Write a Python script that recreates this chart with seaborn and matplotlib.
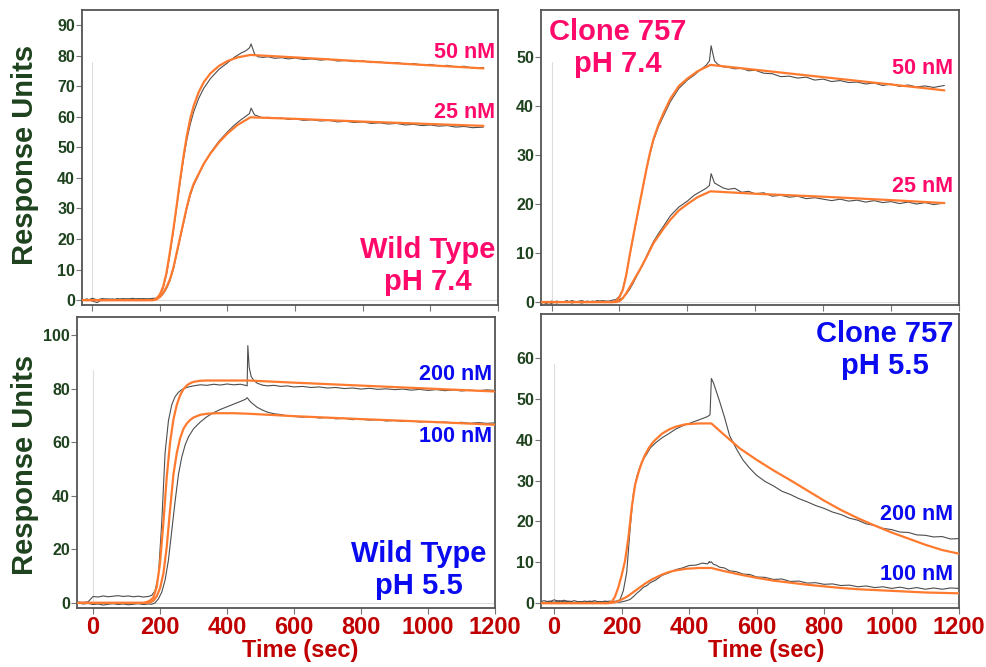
import numpy as np
import seaborn as sns
import matplotlib.pyplot as plt

# ---- time grids (sec) ----
t_gray_74 = [-30, -15, 0, 15, 30, 45, 60, 75, 90, 105, 120, 135, 150, 165, 180, 190, 200, 210, 220, 230,
             240, 250, 260, 270, 280, 290, 300, 315, 330, 350, 375, 400, 420, 440, 455, 465, 470, 480, 490, 505,
             520, 540, 560, 580, 600, 625, 650, 675, 700, 725, 750, 775, 800, 825, 850, 875, 900, 925, 950, 975,
             1000, 1025, 1050, 1075, 1100, 1125, 1157]
t_fit_74 = [-30, 180, 190, 200, 210, 220, 230, 240, 250, 260, 270, 280, 290, 300, 315, 330, 350, 375, 400, 430,
            468, 600, 800, 1000, 1157]

t_gray_55 = [-45, -30, -15, 0, 15, 30, 45, 60, 75, 90, 105, 120, 135, 150, 165, 175, 185, 195, 205, 215,
             225, 235, 245, 255, 265, 275, 285, 300, 320, 340, 360, 380, 400, 420, 440, 455, 460, 462, 466, 472,
             480, 490, 505, 520, 540, 560, 580, 600, 625, 650, 675, 700, 725, 750, 775, 800, 825, 850, 875, 900,
             925, 950, 975, 1000, 1025, 1050, 1075, 1100, 1125, 1150, 1175, 1200]
t_fit_wt55 = [-45, 150, 160, 170, 180, 190, 200, 210, 220, 230, 240, 250, 260, 270, 280, 290, 300, 320, 340, 370,
              420, 463, 600, 800, 1000, 1200]
t_fit_cl55 = [-45, 160, 170, 180, 190, 200, 210, 220, 230, 240, 250, 260, 270, 280, 290, 300, 320, 340, 360, 390,
              430, 466, 500, 550, 600, 650, 700, 750, 800, 850, 900, 950, 1000, 1050, 1100, 1150, 1200]

# ---- Wild type pH 7.4 ----
wt74_50_data = [0.3, -0.2, 0.6, 0.1, 0.5, 0.2, 0.4, 0.0, 0.5, 0.3, 0.6, 0.2, 0.5, 0.3, 0.6, 0.6, 1.5, 4.0, 8.5, 15,
                22.5, 30.5, 38.5, 46, 52.5, 57.5, 61.5, 66, 69.3, 72.5, 75.5, 77.6, 79.4, 80.8, 81.6, 82.5, 83.8, 80.6, 79.6, 79.4,
                79.6, 79.1, 79.3, 78.9, 79.2, 78.7, 78.9, 78.5, 78.8, 78.2, 78.4, 78.0, 78.3, 77.7, 77.9, 77.5, 77.7, 77.2, 77.4, 76.9,
                77.1, 76.6, 76.8, 76.3, 76.5, 75.9, 76.1]
wt74_25_data = [0.0, 0.4, -0.3, -0.8, 0.2, 0.4, 0.1, 0.5, 0.2, 0.4, 0.1, 0.5, 0.3, 0.4, 0.3, 0.5, 0.9, 2.0, 3.8, 6.3,
                10, 15, 20, 25, 30, 34.2, 37.5, 41, 44.5, 48.2, 52, 55, 57.2, 59, 60.2, 61.0, 62.8, 60.6, 60.2, 59.6,
                59.8, 59.4, 59.6, 59.1, 59.3, 58.8, 59.0, 58.6, 58.8, 58.3, 58.5, 58.1, 58.3, 57.8, 58.0, 57.6, 57.8, 57.3, 57.5, 57.1,
                57.3, 56.9, 57.1, 56.6, 56.8, 56.4, 56.6]
wt74_50_fit = [0, 0, 0.5, 1.8, 4.4, 9, 15.8, 23, 31, 39.3, 47, 53.8, 59.3, 63.5, 68, 71.3, 74.2, 76.6, 78.2, 79.4,
               80.2, 79.4, 78.1, 76.8, 75.8]
wt74_25_fit = [0, 0, 0.2, 1.0, 2.4, 4.3, 6.8, 10.5, 15.5, 20.5, 25.5, 30.5, 34.8, 38, 41.3, 44.6, 48, 51.6, 54.5, 57.3,
               59.8, 59.3, 58.4, 57.6, 57.0]

# ---- Clone 757 pH 7.4 ----
cl74_50_data = [-0.2, 0.1, -0.3, 0.2, -0.1, 0.3, -0.2, 0.1, 0.3, -0.1, 0.2, 0.0, 0.3, 0.1, 0.4, 0.5, 1.2, 2.6, 5.6, 9.4,
                13, 16.6, 20.2, 23.7, 27.2, 30.2, 32.9, 35.8, 38.0, 40.9, 43.6, 45.3, 46.3, 47.5, 48.3, 49.2, 52.3, 49.2, 48.5, 48.0,
                47.9, 47.6, 47.7, 47.2, 47.3, 46.7, 46.6, 46.0, 46.1, 45.7, 45.9, 45.3, 45.5, 45.0, 45.2, 44.8, 44.9, 44.5, 44.7, 44.2,
                44.5, 44.0, 44.3, 43.9, 44.1, 43.8, 44.2]
cl74_25_data = [0.1, -0.3, 0.2, -0.2, 0.1, -0.1, 0.3, 0.0, -0.2, 0.2, 0.0, 0.3, 0.1, 0.2, 0.0, 0.3, 0.5, 0.9, 1.6, 2.6,
                3.8, 5.2, 6.5, 7.8, 9.4, 10.9, 12.3, 14.0, 15.5, 17.6, 19.4, 20.6, 21.8, 22.6, 23.2, 23.8, 26.2, 24.3, 23.9, 23.3,
                23.0, 23.2, 22.4, 22.6, 22.1, 22.3, 21.6, 21.8, 21.4, 21.6, 21.1, 21.3, 21.0, 20.7, 21.0, 20.6, 20.8, 20.4, 20.7, 20.3,
                20.5, 20.1, 20.4, 20.0, 20.3, 19.9, 20.2]
cl74_50_fit = [0, 0, 0.2, 1.0, 2.5, 5.5, 9.5, 13.2, 16.8, 20.3, 23.8, 27.3, 30.5, 33.2, 36.2, 38.6, 41.5, 44.1, 45.6, 47.1,
               48.4, 47.4, 45.9, 44.4, 43.2]
cl74_25_fit = [0, 0, 0, 0.2, 0.8, 1.8, 3.0, 4.2, 5.4, 6.6, 7.9, 9.2, 10.6, 12.0, 13.5, 15.0, 16.8, 18.7, 20.0, 21.4,
               22.6, 22.1, 21.5, 20.8, 20.2]

# ---- Wild type pH 5.5 ----
wt55_200_data = [0.3, 0.2, 0.4, 2.4, 2.2, 2.6, 2.3, 2.5, 2.7, 2.4, 2.6, 2.3, 2.5, 2.2, 2.4, 2.8, 4.5, 10, 30, 56,
                 68, 74, 77, 78.6, 79.6, 80.2, 80.6, 81.0, 81.4, 81.2, 81.6, 81.3, 81.7, 81.4, 81.6, 81.2, 81.0, 96, 88, 84.5,
                 83, 82, 81.3, 81.0, 81.2, 80.8, 81.0, 80.6, 80.8, 80.4, 80.6, 80.2, 80.4, 80.0, 80.2, 79.8, 80.1, 79.7, 79.9, 79.6,
                 79.8, 79.4, 79.7, 79.3, 79.6, 79.2, 79.5, 79.1, 79.4, 79.2, 79.5, 79.3]
wt55_100_data = [0.0, -0.4, -0.2, -0.6, -0.4, -0.8, -0.5, -0.3, -0.6, -0.4, -0.7, -0.5, -0.3, -0.6, -0.4, -0.5, 0.0, 1.5, 4, 8.5,
                 16, 27, 38, 48, 54.5, 59, 62, 65, 67.5, 69.5, 71.0, 72.2, 73.2, 74.2, 75.2, 76.0, 76.6, 76.3, 75.6, 74.8,
                 74.0, 73.0, 72.0, 71.2, 70.6, 70.3, 69.8, 69.6, 69.3, 69.5, 69.0, 69.2, 68.7, 68.9, 68.4, 68.6, 68.2, 68.4, 67.9, 68.1,
                 67.7, 67.9, 67.5, 67.7, 67.3, 67.5, 67.2, 67.4, 67.0, 67.3, 67.0, 67.2]
wt55_200_fit = [0, 0, 0.3, 0.9, 2, 6, 15, 30, 47, 60, 68.5, 74, 77.5, 79.8, 81.2, 82, 82.5, 82.9, 83.0, 83.0,
                83.0, 83.0, 82.2, 81.1, 80.0, 78.9]
wt55_100_fit = [0, 0, 0, 0.2, 0.8, 2.5, 5.5, 11, 21, 35, 48, 56, 61.5, 65, 67, 68.3, 69.2, 70.2, 70.6, 70.8,
                70.8, 70.6, 69.7, 68.6, 67.6, 66.5]

# ---- Clone 757 pH 5.5 ----
cl55_200_data = [0.2, 0.6, 0.3, 0.8, 0.4, 0.7, 0.3, 0.6, 0.2, 0.5, 0.3, 0.6, 0.2, 0.5, 0.3, 0.4, 0.5, 0.8, 3.0, 7.5,
                 18, 27, 31, 33.5, 35.3, 36.6, 38.0, 39.2, 40.5, 41.5, 42.6, 43.4, 44.0, 44.6, 45.2, 45.7, 46.0, 46.1, 55.0, 54.0,
                 52, 49.5, 45.5, 41.0, 37.8, 35.0, 33.0, 31.3, 29.8, 28.7, 27.4, 26.6, 25.6, 24.8, 23.9, 23.2, 22.3, 21.7, 20.8, 20.3,
                 19.4, 19.0, 18.3, 18.0, 17.4, 17.3, 16.7, 16.6, 16.2, 16.3, 15.7, 15.8]
cl55_100_data = [0.3, 0.1, 0.5, 0.2, 0.6, 0.3, 0.5, 0.1, 0.4, 0.2, 0.5, 0.2, 0.4, 0.3, 0.5, 0.2, 0.3, 0.2, 0.4, 0.6,
                 0.9, 1.6, 2.4, 3.1, 3.9, 4.3, 5.0, 5.6, 6.8, 7.4, 8.2, 8.6, 9.2, 9.3, 9.8, 9.6, 10.2, 9.9, 10.1, 9.5,
                 9.3, 8.8, 8.6, 7.9, 7.7, 7.1, 7.0, 6.4, 6.3, 5.8, 5.9, 5.3, 5.4, 4.9, 5.0, 4.6, 4.7, 4.3, 4.4, 4.0,
                 4.2, 3.8, 4.0, 3.6, 3.9, 3.5, 3.8, 3.4, 3.7, 3.4, 3.7, 3.6]
cl55_200_fit = [0, 0, 0.3, 1.5, 3.8, 6.8, 10.3, 16, 23.5, 29, 32, 34.5, 36.4, 37.9, 39.1, 40.0, 41.5, 42.5, 43.2, 43.8,
                44.0, 44.0, 41.5, 37.9, 35.1, 32.5, 30.1, 27.6, 25.1, 22.8, 20.8, 19.0, 17.3, 15.8, 14.3, 13.0, 12.1]
cl55_100_fit = [0, 0, 0.05, 0.2, 0.5, 0.9, 1.3, 1.8, 2.4, 3.0, 3.6, 4.2, 4.8, 5.3, 5.8, 6.2, 7.0, 7.6, 8.0, 8.4,
                8.6, 8.6, 7.9, 7.0, 6.2, 5.5, 5.0, 4.5, 4.1, 3.7, 3.4, 3.2, 3.0, 2.8, 2.6, 2.5, 2.4]

x_ticks = [0, 200, 400, 600, 800, 1000, 1200]

PINK = "#FF0A6A"
BLUE = "#0A0AF0"
RED = "#C00000"
GREEN = "#1E421E"
ORANGE = "#FF7A2E"
GRAY = "#4d4d4d"

sns.set_style("white")
plt.rcParams['font.family'] = ['Liberation Sans', 'DejaVu Sans']
plt.rcParams['font.weight'] = 'bold'

W, H = 986, 667
fig = plt.figure(figsize=(W / 100, H / 100), dpi=100)


def box(l, t, r, b):
    return [l / W, 1 - b / H, (r - l) / W, (b - t) / H]


def fpos(x, y):
    return x / W, 1 - y / H


panels = [
    dict(rect=box(82, 10, 498, 305), xlim=(-30, 1160), ylim=(-1.6, 94.9), yt=range(0, 91, 10),
         tg=t_gray_74, tf=t_fit_74, data=[wt74_50_data, wt74_25_data], fit=[wt74_50_fit, wt74_25_fit],
         mark=78, bottom=False),
    dict(rect=box(541, 10, 959, 305), xlim=(-31, 1159), ylim=(-0.6, 59.6), yt=range(0, 51, 10),
         tg=t_gray_74, tf=t_fit_74, data=[cl74_50_data, cl74_25_data], fit=[cl74_50_fit, cl74_25_fit],
         mark=49, bottom=False),
    dict(rect=box(77, 317, 495, 608), xlim=(-48, 1200), ylim=(-1.9, 106.7), yt=range(0, 101, 20),
         tg=t_gray_55, tf=t_fit_wt55, data=[wt55_200_data, wt55_100_data], fit=[wt55_200_fit, wt55_100_fit],
         mark=87, bottom=True),
    dict(rect=box(541, 314, 959, 608), xlim=(-39, 1200), ylim=(-1.2, 70.8), yt=range(0, 61, 10),
         tg=t_gray_55, tf=t_fit_cl55, data=[cl55_200_data, cl55_100_data], fit=[cl55_200_fit, cl55_100_fit],
         mark=58.5, bottom=True),
]

for p in panels:
    ax = fig.add_axes(p['rect'])
    ax.plot([0, 0], [0, p['mark']], color="#dddddd", lw=0.8, zorder=1)
    ax.axhline(0, color="#dddddd", lw=0.8, zorder=1)
    for d in p['data']:
        sns.lineplot(x=p['tg'], y=d, ax=ax, color=GRAY, lw=0.8, estimator=None, zorder=2)
    for f in p['fit']:
        sns.lineplot(x=p['tf'], y=f, ax=ax, color=ORANGE, lw=1.6, estimator=None, zorder=3)
    ax.set_xlim(*p['xlim'])
    ax.set_ylim(*p['ylim'])
    ax.set_xticks(x_ticks)
    ax.set_yticks(list(p['yt']))
    for s in ax.spines.values():
        s.set_visible(True)
        s.set_color("#555555")
        s.set_linewidth(1.3)
    ax.tick_params(axis='y', which='major', left=True, length=4, width=0.8, color="#777777",
                   labelcolor=GREEN, labelsize=11.5, pad=1)
    ax.tick_params(axis='x', which='major', bottom=True, length=4, width=0.8, color="#777777",
                   labelcolor=RED, labelsize=17, pad=2, labelbottom=p['bottom'])
    for lab in ax.get_xticklabels() + ax.get_yticklabels():
        lab.set_fontweight('bold')
    ax.set_xlabel("")
    ax.set_ylabel("")

txt = dict(fontweight='bold', ha='center', va='center')

# axis titles
fig.text(*fpos(25, 155), "Response Units", rotation=90, color=GREEN, fontsize=21, **txt)
fig.text(*fpos(25, 465), "Response Units", rotation=90, color=GREEN, fontsize=21, **txt)
fig.text(*fpos(300, 650), "Time (sec)", color=RED, fontsize=17, **txt)
fig.text(*fpos(766, 650), "Time (sec)", color=RED, fontsize=17, **txt)

# panel labels
fig.text(*fpos(428, 266), "Wild Type\npH 7.4", color=PINK, fontsize=21, linespacing=1.15, **txt)
fig.text(*fpos(618, 48), "Clone 757\npH 7.4", color=PINK, fontsize=21, linespacing=1.15, **txt)
fig.text(*fpos(419, 570), "Wild Type\npH 5.5", color=BLUE, fontsize=21, linespacing=1.15, **txt)
fig.text(*fpos(885, 350), "Clone 757\npH 5.5", color=BLUE, fontsize=21, linespacing=1.15, **txt)

conc = [(495, 52, "50 nM", PINK), (495, 113, "25 nM", PINK),
        (953, 68, "50 nM", PINK), (953, 186, "25 nM", PINK),
        (492, 375, "200 nM", BLUE), (492, 437, "100 nM", BLUE),
        (953, 514, "200 nM", BLUE), (953, 575, "100 nM", BLUE)]
for x, y, s, c in conc:
    fig.text(*fpos(x, y), s, color=c, fontsize=15.5, fontweight='bold', ha='right', va='center')

fig.savefig("out.png", dpi=100)
